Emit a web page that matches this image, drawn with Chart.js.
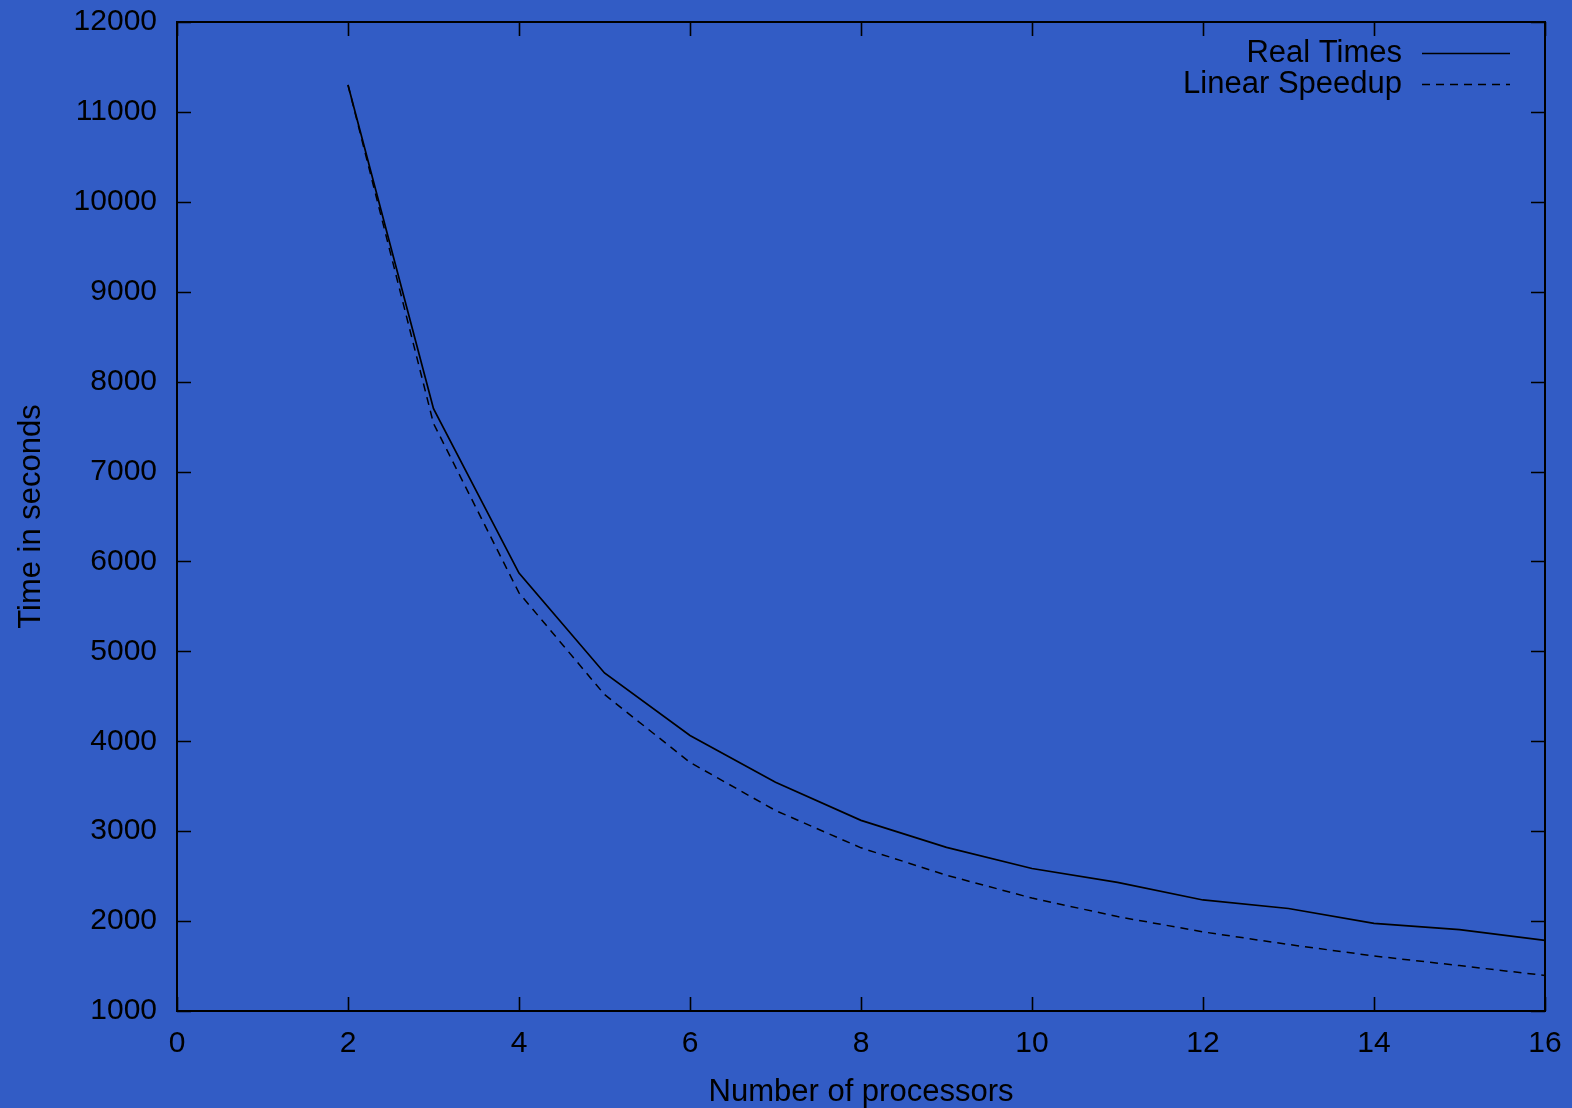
<!DOCTYPE html>
<html>
<head>
<meta charset="utf-8">
<script src="https://cdn.jsdelivr.net/npm/chart.js@4.4.1/dist/chart.umd.min.js"></script>
<style>
  html, body { margin: 0; padding: 0; background: #325cc5; }
  #wrap { width: 1572px; height: 1108px; }
</style>
</head>
<body>
<div id="wrap"><canvas id="speedup" width="1572" height="1108"></canvas></div>
<script>
// ─── DATA ───
const processors = [2, 3, 4, 5, 6, 7, 8, 9, 10, 11, 12, 13, 14, 15, 16];
const realTimes = [11300, 7700, 5870, 4760, 4065, 3545, 3120, 2820, 2585, 2430, 2235, 2140, 1975, 1905, 1785];
const linearSpeedup = [11300, 7535, 5650, 4520, 3765, 3230, 2815, 2510, 2256, 2050, 1880, 1740, 1612, 1505, 1395];
const xTicks = [0, 2, 4, 6, 8, 10, 12, 14, 16];
const yTicks = [1000, 2000, 3000, 4000, 5000, 6000, 7000, 8000, 9000, 10000, 11000, 12000];

const FONT = '"Liberation Sans", Arial, Helvetica, sans-serif';
const INK = '#000000';

const toPoints = ys => processors.map((p, i) => ({ x: p, y: ys[i] }));

// ─── GNUPLOT STYLE FRAME, INWARD TICKS, KEY ───
const gnuplotFrame = {
  id: 'gnuplotFrame',
  afterDraw(chart) {
    const { ctx, chartArea: a, scales } = chart;
    ctx.save();
    ctx.strokeStyle = INK;
    ctx.lineWidth = 2;
    ctx.strokeRect(a.left, a.top, a.right - a.left, a.bottom - a.top);

    const len = 14;
    ctx.lineWidth = 1.6;
    ctx.beginPath();
    scales.x.ticks.forEach(t => {
      const px = Math.round(scales.x.getPixelForValue(t.value)) + 0.5;
      ctx.moveTo(px, a.bottom); ctx.lineTo(px, a.bottom - len);
      ctx.moveTo(px, a.top); ctx.lineTo(px, a.top + len);
    });
    scales.y.ticks.forEach(t => {
      const py = Math.round(scales.y.getPixelForValue(t.value)) + 0.5;
      ctx.moveTo(a.left, py); ctx.lineTo(a.left + len, py);
      ctx.moveTo(a.right, py); ctx.lineTo(a.right - len, py);
    });
    ctx.stroke();

    // key, top right: label then sample line
    ctx.font = '31px ' + FONT;
    ctx.fillStyle = INK;
    ctx.textAlign = 'right';
    ctx.textBaseline = 'middle';
    const textRight = a.right - 143;
    const lineFrom = a.right - 123, lineTo = a.right - 35;
    chart.data.datasets.forEach((ds, i) => {
      const y = a.top + 31 + i * 31;
      ctx.fillText(ds.label, textRight, y);
      ctx.beginPath();
      ctx.setLineDash(ds.borderDash || []);
      ctx.lineWidth = 1.4;
      ctx.moveTo(lineFrom, y + 0.5);
      ctx.lineTo(lineTo, y + 0.5);
      ctx.stroke();
    });
    ctx.setLineDash([]);
    ctx.restore();
  }
};

// ─── CHART ───
new Chart(document.getElementById('speedup'), {
  type: 'line',
  data: {
    datasets: [
      {
        label: 'Real Times',
        data: toPoints(realTimes),
        borderColor: INK,
        borderWidth: 1.7,
        pointRadius: 0,
        tension: 0
      },
      {
        label: 'Linear Speedup',
        data: toPoints(linearSpeedup),
        borderColor: INK,
        borderWidth: 1.5,
        borderDash: [8, 6],
        pointRadius: 0,
        tension: 0
      }
    ]
  },
  options: {
    responsive: false,
    animation: false,
    events: [],
    layout: { padding: { top: 22, right: 27, left: 0, bottom: 0 } },
    plugins: { legend: { display: false }, tooltip: { enabled: false } },
    scales: {
      x: {
        type: 'linear',
        min: 0, max: 16,
        afterBuildTicks: s => { s.ticks = xTicks.map(v => ({ value: v })); },
        afterFit: s => { s.height = 97; s.paddingLeft = 0; s.paddingRight = 0; },
        grid: { display: false, drawTicks: false },
        border: { display: false },
        ticks: { color: INK, font: { family: FONT, size: 30 }, padding: 15, maxRotation: 0, callback: v => String(v) },
        title: {
          display: true,
          text: 'Number of processors',
          color: INK,
          font: { family: FONT, size: 31 },
          padding: { top: 0, bottom: -3 }
        }
      },
      y: {
        min: 1000, max: 12000,
        afterBuildTicks: s => { s.ticks = yTicks.map(v => ({ value: v })); },
        afterFit: s => { s.width = 177; s.paddingTop = 0; s.paddingBottom = 0; },
        grid: { display: false, drawTicks: false },
        border: { display: false },
        ticks: { color: INK, font: { family: FONT, size: 30 }, padding: 20, callback: v => String(v) },
        title: {
          display: true,
          text: 'Time in seconds',
          color: INK,
          font: { family: FONT, size: 31 },
          padding: { top: 13, bottom: 0 }
        }
      }
    }
  },
  plugins: [gnuplotFrame]
});
</script>
</body>
</html>
